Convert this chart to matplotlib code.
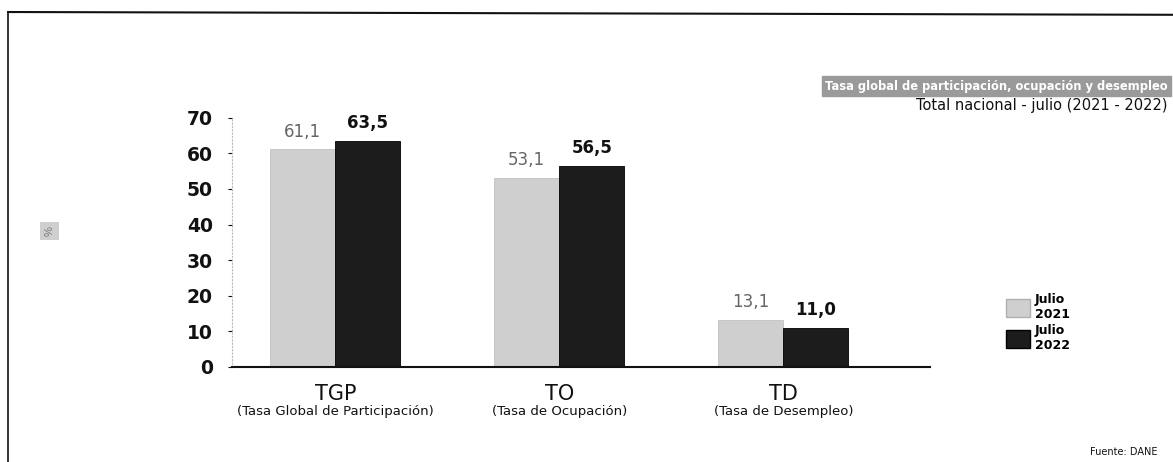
import matplotlib
matplotlib.use("Agg")
import matplotlib.pyplot as plt
from matplotlib.lines import Line2D
from matplotlib.patches import Patch
import numpy as np

categories = ["TGP", "TO", "TD"]
subtitles = ["(Tasa Global de Participación)", "(Tasa de Ocupación)", "(Tasa de Desempleo)"]
series_names = ["Julio\n2021", "Julio\n2022"]
values_2021 = [61.1, 53.1, 13.1]
values_2022 = [63.5, 56.5, 11.0]
yticks = [0, 10, 20, 30, 40, 50, 60, 70]

plt.rcParams['font.family'] = ['Liberation Sans', 'DejaVu Sans']

fig = plt.figure(figsize=(11.73, 4.62), dpi=100)
ax = fig.add_axes([0.198, 0.206, 0.595, 0.539])

x = np.arange(len(categories))
w = 0.29
c21 = "#cfcfcf"
c22 = "#1c1c1c"
ax.bar(x - w / 2, values_2021, w, color=c21, edgecolor="#b0b0b0", linewidth=0.4)
ax.bar(x + w / 2, values_2022, w, color=c22, edgecolor="#000000", linewidth=0.6)

for xi, v in zip(x - w / 2, values_2021):
    ax.text(xi, v + 2.5, f"{v:.1f}".replace(".", ","), ha="center", va="bottom",
            fontsize=12, color="#666666", family="DejaVu Sans")
for xi, v in zip(x + w / 2, values_2022):
    ax.text(xi, v + 2.5, f"{v:.1f}".replace(".", ","), ha="center", va="bottom",
            fontsize=12, color="#111111", fontweight="bold", family="DejaVu Sans")

ax.set_ylim(0, 70)
ax.set_xlim(-0.46, 2.656)
ax.set_yticks(yticks)
ax.set_yticklabels([str(t) for t in yticks], fontsize=13.5, fontweight="bold",
                   family="DejaVu Sans")
ax.tick_params(axis="y", length=3, width=0.8, pad=11, colors="#111111")
ax.tick_params(axis="x", length=0)
ax.set_xticks(x)
ax.set_xticklabels([""] * len(categories))
for xi, cat, sub in zip(x, categories, subtitles):
    ax.text(xi, -4.8, cat, ha="center", va="top", fontsize=15, family="DejaVu Sans",
            color="#111111")
    ax.text(xi, -10.8, sub, ha="center", va="top", fontsize=9.5, family="DejaVu Sans",
            color="#111111")

for s in ["top", "right"]:
    ax.spines[s].set_visible(False)
ax.spines["left"].set_color("#bbbbbb")
ax.spines["left"].set_linestyle((0, (1, 2)))
ax.spines["left"].set_linewidth(0.8)
ax.spines["bottom"].set_color("#111111")
ax.spines["bottom"].set_linewidth(1.5)

handles = [Patch(facecolor=c21, edgecolor="#b0b0b0"), Patch(facecolor=c22, edgecolor="#000000")]
fig.legend(handles, series_names, loc="upper left", bbox_to_anchor=(0.848, 0.39),
           frameon=False, handlelength=1.9, handleheight=1.9,
           labelspacing=0.25, handletextpad=0.4,
           prop={"family": "DejaVu Sans", "weight": "bold", "size": 9})

# title band
fig.text(0.9955, 0.813, "Tasa global de participación, ocupación y desempleo",
         ha="right", va="center", fontsize=8.3, color="white", fontweight="bold",
         family="DejaVu Sans",
         bbox=dict(boxstyle="square,pad=0.3", facecolor="#9a9a9a", edgecolor="#9a9a9a"))
fig.text(0.9955, 0.771, "Total nacional - julio (2021 - 2022)", ha="right", va="center",
         fontsize=10.5, color="#111111", family="DejaVu Sans")

# small y-axis label box
fig.text(0.042, 0.50, "%", ha="center", va="center", rotation=90, fontsize=8,
         color="#777777",
         bbox=dict(boxstyle="square,pad=0.4", facecolor="#cfcfcf", edgecolor="none"))

fig.text(0.987, 0.022, "Fuente: DANE", ha="right", va="center", fontsize=7,
         color="#111111", family="DejaVu Sans")

# frame lines
fig.add_artist(Line2D([0.007, 1.0], [0.974, 0.968], color="#111111", linewidth=1.5,
                      transform=fig.transFigure))
fig.add_artist(Line2D([0.007, 0.007], [0.0, 0.974], color="#111111", linewidth=1.2,
                      transform=fig.transFigure))

fig.savefig("out.png", dpi=100)
